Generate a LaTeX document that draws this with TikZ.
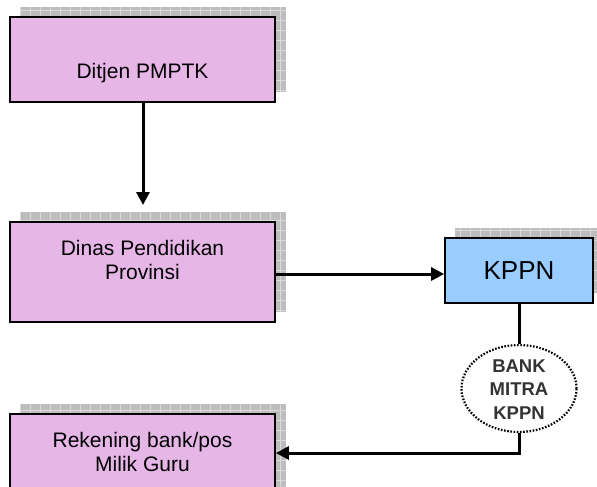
\documentclass[tikz,border=0pt]{standalone}
\usepackage{fontspec}
\setmainfont{Liberation Sans}
\usetikzlibrary{arrows.meta,shapes.geometric}
\definecolor{pinkbox}{HTML}{E6B6E6}
\definecolor{bluebox}{HTML}{99CCFF}
\definecolor{shadowgray}{HTML}{BDBDBD}
\definecolor{gridgray}{HTML}{DADADA}
\definecolor{banktext}{HTML}{333333}
\newcommand{\shadowrect}[4]{%
  \begin{scope}
    \clip (#1,#2) rectangle (#3,#4);
    \fill[shadowgray] (#1,#2) rectangle (#3,#4);
    \draw[gridgray,line width=0.8pt,step=10pt] (#1,#2) grid (#3,#4);
  \end{scope}}
\tikzset{
  box/.style={draw=black,line width=1.8pt,fill=pinkbox,inner sep=0pt},
  lbl/.style={font=\fontsize{21}{24}\selectfont,align=center,inner sep=0pt,text=black},
  conn/.style={line width=3pt,line cap=butt},
  arr/.style={conn,-{Triangle[length=13pt,width=13pt]}}
}
\begin{document}
\begin{tikzpicture}[x=1pt,y=-1pt]
\useasboundingbox (0,0) rectangle (597,487);
\clip (0,0) rectangle (597,487);
\fill[white] (0,0) rectangle (597,487);
% shadows
\shadowrect{20}{7}{286}{92}
\shadowrect{20}{212}{286}{312}
\shadowrect{455}{228}{600}{293}
\shadowrect{20}{404}{286}{520}
% boxes
\node[box,minimum width=265pt,minimum height=85pt] (b1) at (142.5,59.5) {};
\node[box,minimum width=265pt,minimum height=100pt] (b2) at (142.5,272) {};
\node[box,fill=bluebox,minimum width=148pt,minimum height=65pt] (k) at (519,270.5) {};
\node[box,minimum width=265pt,minimum height=100pt] (b3) at (142.5,464) {};
\node[ellipse,draw=black,line width=2.2pt,dash pattern=on 1.6pt off 1.6pt,fill=white,minimum width=115pt,minimum height=87pt,inner sep=0pt] (bank) at (519,388.5) {};
% texts
\node[lbl] (t1) at (142.5,73) {Ditjen PMPTK};
\node[lbl] (t2) at (142.5,260) {Dinas Pendidikan\\Provinsi};
\node[lbl,font=\fontsize{26}{30}\selectfont] (tk) at (519,270.5) {KPPN};
\node[lbl,font=\bfseries\fontsize{18.5}{23.5}\selectfont,text=banktext] (tb) at (519,389.5) {BANK\\MITRA\\KPPN};
\node[lbl] (t3) at (142.5,452) {Rekening bank/pos\\Milik Guru};
% connectors
\coordinate (c1) at (143,205);
\draw[arr] (b1.south -| c1) -- (c1);
\draw[arr] (b2.east |- 0,274) -- (k.west |- 0,274);
\draw[conn] (k.south) -- (bank.north);
\coordinate (c2) at (bank.south |- 0,453);
\draw[arr] (bank.south) -- (c2) -- (b3.east |- c2);
\end{tikzpicture}
\end{document}
